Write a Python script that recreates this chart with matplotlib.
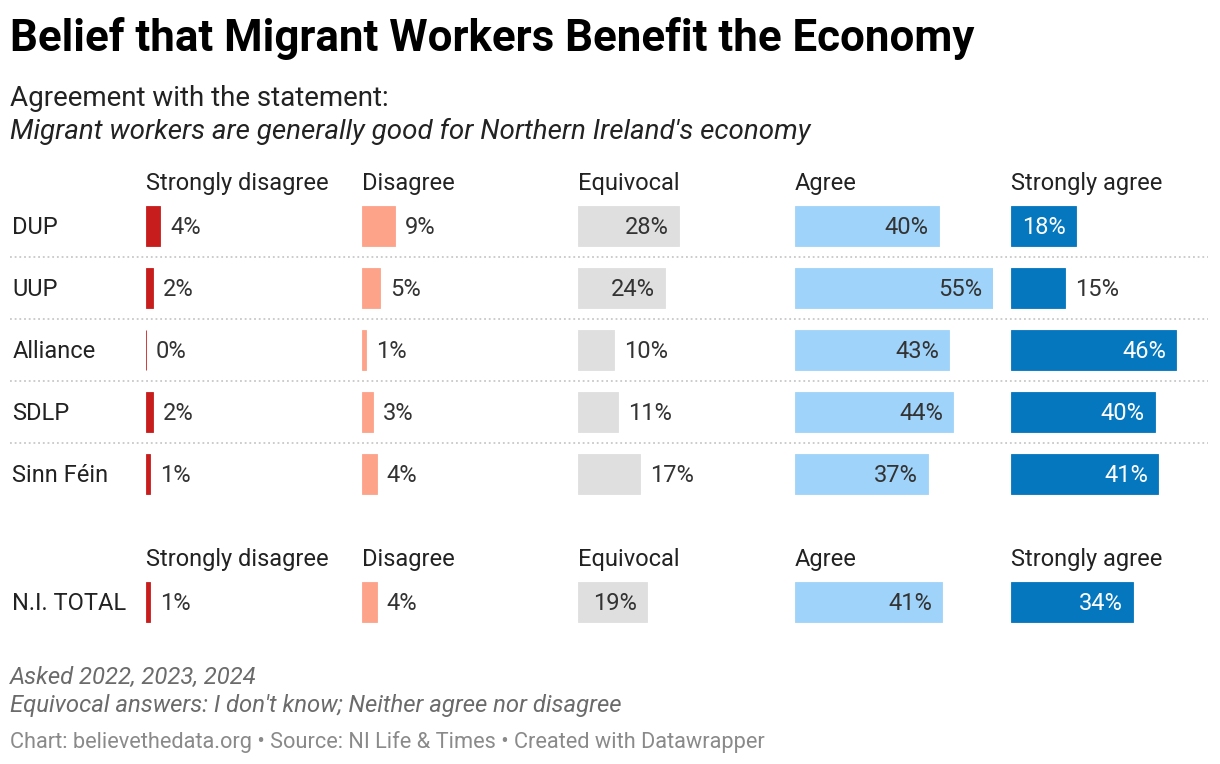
import matplotlib
matplotlib.use("Agg")
from matplotlib import pyplot as plt

plt.rcParams['font.family'] = ['Roboto', 'DejaVu Sans']

parties = ["DUP", "UUP", "Alliance", "SDLP", "Sinn Féin"]
categories = ["Strongly disagree", "Disagree", "Equivocal", "Agree", "Strongly agree"]
strongly_disagree = [4, 2, 0, 2, 1]
disagree = [9, 5, 1, 3, 4]
equivocal = [28, 24, 10, 11, 17]
agree = [40, 55, 43, 44, 37]
strongly_agree = [18, 15, 46, 40, 41]
total_label = "N.I. TOTAL"
total = [1, 4, 19, 41, 34]

colors = ["#c71e1d", "#fca38a", "#dfdfdf", "#9fd3f9", "#0477be"]
text_in = ["#333333", "#333333", "#333333", "#333333", "#ffffff"]

W, H = 1220, 764
fig = plt.figure(figsize=(W / 100, H / 100), dpi=100)


def fx(px):
    return px / W


def fy(py):
    return 1 - py / H


def add_ax(left, top, width, height):
    ax = fig.add_axes([fx(left), fy(top + height), width / W, height / H])
    ax.axis("off")
    return ax


col_left = [146 + 216.2 * i for i in range(5)]
col_w = 198
xmax = 55
unit = col_w / xmax  # px per percent
row_px = 62
dy = 2 / row_px  # small downward nudge for text
fs = 17


def draw_column(ax, vals, ci):
    n = len(vals)
    ax.set_xlim(0, xmax)
    ax.set_ylim(n - 0.5, -0.5)
    ax.barh(range(n), vals, height=0.645, color=colors[ci],
            edgecolor=colors[ci], linewidth=0.6)
    for r, v in enumerate(vals):
        if v >= 18:
            ax.text(v - 10 / unit, r + dy, f"{v}%", ha="right", va="center",
                    fontsize=fs, color=text_in[ci])
        else:
            ax.text(v + 10 / unit, r + dy, f"{v}%", ha="left", va="center",
                    fontsize=fs, color="#333333")


# background axis for row labels and separators
bg = add_ax(10, 195, 1198, 310)
bg.set_xlim(0, 1)
bg.set_ylim(4.5, -0.5)
for r, p in enumerate(parties):
    bg.text(0.002, r + dy, p, ha="left", va="center", fontsize=fs, color="#222222")
for r in range(len(parties) - 1):
    bg.axhline(r + 0.5, color="#c8c8c8", lw=1.3, linestyle=(0, (1, 1.6)))

series = [strongly_disagree, disagree, equivocal, agree, strongly_agree]
for ci, vals in enumerate(series):
    ax = add_ax(col_left[ci], 195, col_w, 310)
    draw_column(ax, vals, ci)
    fig.text(fx(col_left[ci]), fy(183.5), categories[ci], ha="left", va="center",
             fontsize=fs, color="#222222")
    fig.text(fx(col_left[ci]), fy(559.5), categories[ci], ha="left", va="center",
             fontsize=fs, color="#222222")

# total block
bg2 = add_ax(10, 571, 1198, 62)
bg2.set_xlim(0, 1)
bg2.set_ylim(0.5, -0.5)
bg2.text(0.002, dy, total_label, ha="left", va="center", fontsize=fs, color="#222222")
for ci, v in enumerate(total):
    ax = add_ax(col_left[ci], 571, col_w, 62)
    draw_column(ax, [v], ci)

# titles
fig.text(fx(10), fy(38.5), "Belief that Migrant Workers Benefit the Economy",
         ha="left", va="center", fontsize=31.6, fontweight="bold", color="#000000")
fig.text(fx(10), fy(98.5), "Agreement with the statement:", ha="left", va="center",
         fontsize=20, color="#222222")
fig.text(fx(10), fy(131.5), "Migrant workers are generally good for Northern Ireland's economy",
         ha="left", va="center", fontsize=20, style="italic", color="#222222")

# notes
fig.text(fx(10), fy(677.5), "Asked 2022, 2023, 2024", ha="left", va="center",
         fontsize=17.2, style="italic", color="#6b6b6b")
fig.text(fx(10), fy(705.5), "Equivocal answers: I don't know; Neither agree nor disagree",
         ha="left", va="center", fontsize=17.2, style="italic", color="#6b6b6b")
fig.text(fx(10), fy(742),
         "Chart: believethedata.org \u2022 Source: NI Life & Times \u2022 Created with Datawrapper",
         ha="left", va="center", fontsize=15.7, color="#8a8a8a")

fig.savefig("out.png", dpi=100, facecolor="white")
